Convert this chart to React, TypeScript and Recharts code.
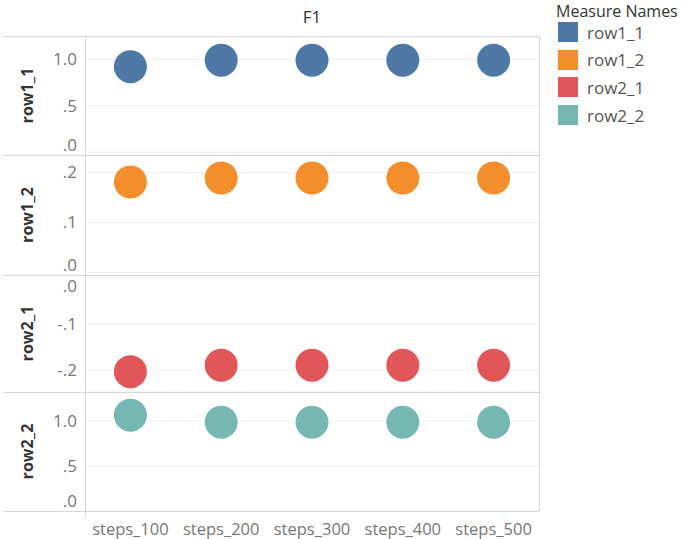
import { ScatterChart, Scatter, XAxis, YAxis, CartesianGrid, Label } from 'recharts'

const steps = ['steps_100', 'steps_200', 'steps_300', 'steps_400', 'steps_500']

const row1_1 = [0.92, 0.99, 0.99, 0.99, 0.99]
const row1_2 = [0.181, 0.189, 0.189, 0.189, 0.189]
const row2_1 = [-0.203, -0.189, -0.189, -0.189, -0.189]
const row2_2 = [1.063, 0.985, 0.985, 0.985, 0.985]

const names = ['row1_1', 'row1_2', 'row2_1', 'row2_2']
const colors = ['#4E79A7', '#F28E2B', '#E15759', '#76B7B2']

const ticks1 = [0, 0.5, 1.0]
const ticks2 = [0, 0.1, 0.2]
const ticks3 = [-0.2, -0.1, 0]
const ticks4 = [0, 0.5, 1.0]

const FONT = '"Open Sans", sans-serif'
const LINE = '#d6d6d6'

interface Panel {
  name: string
  values: number[]
  color: string
  domain: [number, number]
  ticks: number[]
  top: number
  height: number
}

const panels: Panel[] = [
  { name: names[0], values: row1_1, color: colors[0], domain: [-0.03, 1.25], ticks: ticks1, top: 36, height: 119 },
  { name: names[1], values: row1_2, color: colors[1], domain: [-0.005, 0.235], ticks: ticks2, top: 155, height: 120 },
  { name: names[2], values: row2_1, color: colors[2], domain: [-0.247, 0.006], ticks: ticks3, top: 275, height: 117 },
  { name: names[3], values: row2_2, color: colors[3], domain: [0, 1.32], ticks: ticks4, top: 392, height: 119 },
]

// tableau style: ".5", "-.1", "1.0"
function fmt(v: number) {
  if (Math.abs(v) >= 1) return v.toFixed(1)
  const s = v.toFixed(1).replace('0.', '.')
  return s === '-.0' ? '.0' : s
}

function PanelChart({ p, last }: { p: Panel; last: boolean }) {
  const data = steps.map((s, i) => ({ x: i, step: s, v: p.values[i] }))
  const axisH = 28
  const h = p.height + (last ? axisH : 0)

  // keep labels at the panel edges inside the panel, like tableau does
  const YTick = (props: any) => {
    const { x, y, payload } = props
    const cy = Math.min(Math.max(y, 11), p.height - 10)
    return (
      <text x={x} y={cy} dy="0.35em" textAnchor="end" fontSize={17} fill="#777" fontFamily={FONT}>
        {fmt(payload.value)}
      </text>
    )
  }

  const Dot = (props: any) => <circle cx={props.cx} cy={props.cy} r={16.5} fill={p.color} />

  return (
    <div style={{ position: 'absolute', left: 0, top: p.top }}>
      <ScatterChart width={539} height={h} margin={{ top: 0, right: 0, bottom: 0, left: 0 }}>
        <CartesianGrid vertical={false} stroke="#efefef" />
        <XAxis
          type="number"
          dataKey="x"
          domain={[-0.5, 4.5]}
          ticks={[0, 1, 2, 3, 4]}
          interval={0}
          tickFormatter={(i: number) => steps[i]}
          hide={!last}
          height={axisH}
          axisLine={false}
          tickLine={false}
          tickMargin={6}
          tick={{ fontSize: 16.5, fill: '#777', fontFamily: FONT }}
        />
        <YAxis
          type="number"
          dataKey="v"
          domain={p.domain}
          ticks={p.ticks}
          interval={0}
          width={85}
          axisLine={false}
          tickLine={false}
          tick={<YTick />}
        >
          <Label
            content={() => (
              <text
                x={27}
                y={p.height / 2}
                transform={`rotate(-90, 27, ${p.height / 2})`}
                textAnchor="middle"
                dominantBaseline="central"
                fontSize={16}
                fontWeight={700}
                fill="#333"
                fontFamily={FONT}
              >
                {p.name}
              </text>
            )}
          />
        </YAxis>
        <Scatter data={data} fill={p.color} shape={<Dot />} isAnimationActive={false} />
      </ScatterChart>
    </div>
  )
}

export default function App() {
  const hLine = (y: number) => (
    <div key={'h' + y} style={{ position: 'absolute', left: 3, top: y, width: 536, height: 1, background: LINE }} />
  )
  return (
    <div style={{ position: 'absolute', left: 0, top: 0, width: 685, height: 539, background: '#fff', fontFamily: FONT, overflow: 'hidden' }}>
      <div style={{ position: 'absolute', left: 85, width: 454, top: 6, textAlign: 'center', fontSize: 17, color: '#333', lineHeight: '22px' }}>
        F1
      </div>

      {panels.map((p, i) => (
        <PanelChart key={p.name} p={p} last={i === panels.length - 1} />
      ))}

      {[36, 155, 275, 392, 511].map(hLine)}
      <div style={{ position: 'absolute', left: 85, top: 36, width: 1, height: 481, background: LINE }} />
      <div style={{ position: 'absolute', left: 539, top: 36, width: 1, height: 475, background: LINE }} />

      <div style={{ position: 'absolute', left: 556, top: 1, fontSize: 16, color: '#333', lineHeight: '20px', whiteSpace: 'nowrap' }}>
        Measure Names
      </div>
      {names.map((n, i) => (
        <div key={n} style={{ position: 'absolute', left: 558, top: 22 + i * 27.7, height: 20, display: 'flex', alignItems: 'center' }}>
          <div style={{ width: 20, height: 20, background: colors[i] }} />
          <span style={{ marginLeft: 9, fontSize: 17, color: '#555', whiteSpace: 'nowrap' }}>{n}</span>
        </div>
      ))}
    </div>
  )
}
